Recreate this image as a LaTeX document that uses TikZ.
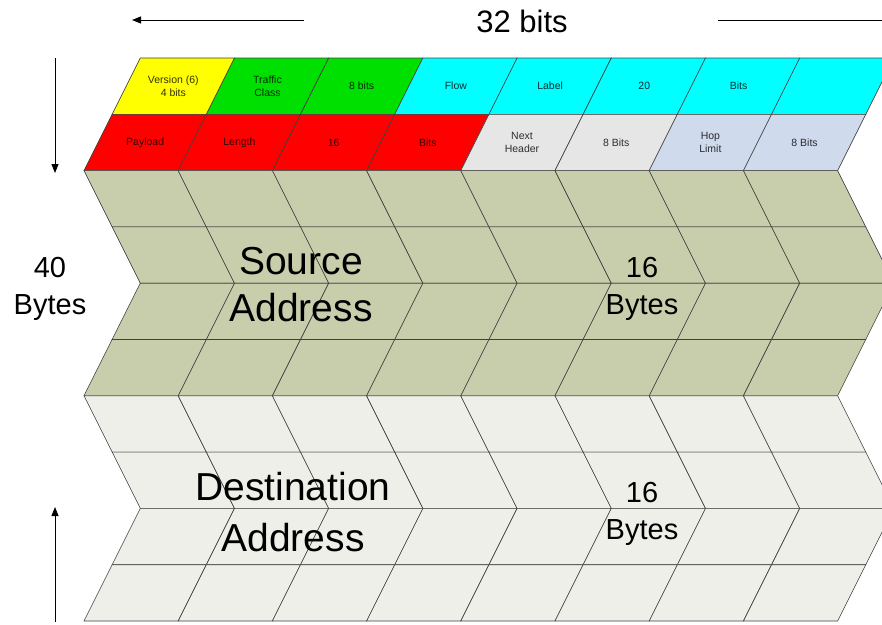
\documentclass[tikz,border=0pt]{standalone}
\usepackage{fontspec}
\setmainfont{Liberation Sans}
\usepackage{tikz}
\usetikzlibrary{arrows.meta}

\definecolor{verYellow}{HTML}{FFFF00}
\definecolor{tcGreen}{HTML}{00E000}
\definecolor{flowCyan}{HTML}{00FFFF}
\definecolor{plRed}{HTML}{FF0000}
\definecolor{nhGray}{HTML}{E6E6E6}
\definecolor{hopBlue}{HTML}{CFDBEC}
\definecolor{srcOlive}{HTML}{C8CDAB}
\definecolor{dstGray}{HTML}{EFEFE9}

\tikzset{
  cell/.style={draw=black!75, line width=0.6pt},
  hdtext/.style={font=\fontsize{10.5}{13}\selectfont, align=center, text opacity=0.8},
  bigtext/.style={font=\fontsize{39}{47}\selectfont, align=center},
  midtext/.style={font=\fontsize{29}{37}\selectfont, align=center},
  sizearrow/.style={-{Triangle[length=9pt,width=7pt]}, line width=0.9pt}
}

\begin{document}
\begin{tikzpicture}[x=1pt,y=-1pt]
      \useasboundingbox (0,0) rectangle (882,624);
      \clip (0,0) rectangle (882,624);
      \def\w{94.2}
      % header, first word
      \foreach \c/\col/\txt in {0/verYellow/{Version (6)\\4 bits},1/tcGreen/{Traffic\\Class},2/tcGreen/{8 bits},
          3/flowCyan/{Flow},4/flowCyan/{Label},5/flowCyan/{20},6/flowCyan/{Bits},7/flowCyan/{}}
      {
        \filldraw[cell, fill=\col] ({140.3+\c*\w},58) -- ++(\w,0) -- ++(-28.15,56.3) -- ++(-\w,0) -- cycle;
        \node (hA\c) at ({126.2+(\c+0.5)*\w},86.2) [hdtext] {\txt};
      }
      % header, second word
      \foreach \c/\col/\txt in {0/plRed/{Payload},1/plRed/{Length},2/plRed/{16},3/plRed/{Bits},
          4/nhGray/{Next\\Header},5/nhGray/{8 Bits},6/hopBlue/{Hop\\Limit},7/hopBlue/{8 Bits}}
      {
        \filldraw[cell, fill=\col] ({112.15+\c*\w},114.3) -- ++(\w,0) -- ++(-28.15,56.3) -- ++(-\w,0) -- cycle;
        \node (hB\c) at ({98.1+(\c+0.5)*\w},142.5) [hdtext] {\txt};
      }
      % address rows
      \foreach \ya/\xa/\xb/\col in {170.6/84/112.15/srcOlive,226.9/112.15/140.3/srcOlive,
          283.2/140.3/112.15/srcOlive,339.5/112.15/84/srcOlive,395.8/84/112.15/dstGray,
          452.1/112.15/140.3/dstGray,508.4/140.3/112.15/dstGray,564.7/112.15/84/dstGray}
        \foreach \c in {0,...,7}
          \filldraw[cell, fill=\col] ({\xa+\c*\w},\ya) -- ++(\w,0) -- ({\xb+(\c+1)*\w},{\ya+56.3}) -- ++(-\w,0) -- cycle;

      \node (src) at (301,284.5) [bigtext] {Source\\Address};
      \node (dst) at (293,512) [bigtext, font=\fontsize{39}{51}\selectfont] {Destination\\Address};
      \node (srclen) at (642,288.5) [midtext] {16\\Bytes};
      \node (dstlen) at (642,514) [midtext] {16\\Bytes};
      \node (hdrlen) at (50,288.5) [midtext] {40\\Bytes};
      \node (width) at (522,21.5) [font=\fontsize{31}{37}\selectfont] {32 bits};

      \coordinate (wL0) at (304,20);
      \coordinate (wL1) at (132,20);
      \coordinate (wR0) at (718,20);
      \coordinate (wR1) at (892,20);
      \coordinate (hT0) at (55,58);
      \coordinate (hT1) at (55,173);
      \coordinate (hB0) at (55,622);
      \coordinate (hB1) at (55,507);
      \draw[sizearrow] (wL0) -- (wL1);
      \draw[sizearrow] (wR0) -- (wR1);
      \draw[sizearrow] (hT0) -- (hT1);
      \draw[sizearrow] (hB0) -- (hB1);
    \end{tikzpicture}
\end{document}
